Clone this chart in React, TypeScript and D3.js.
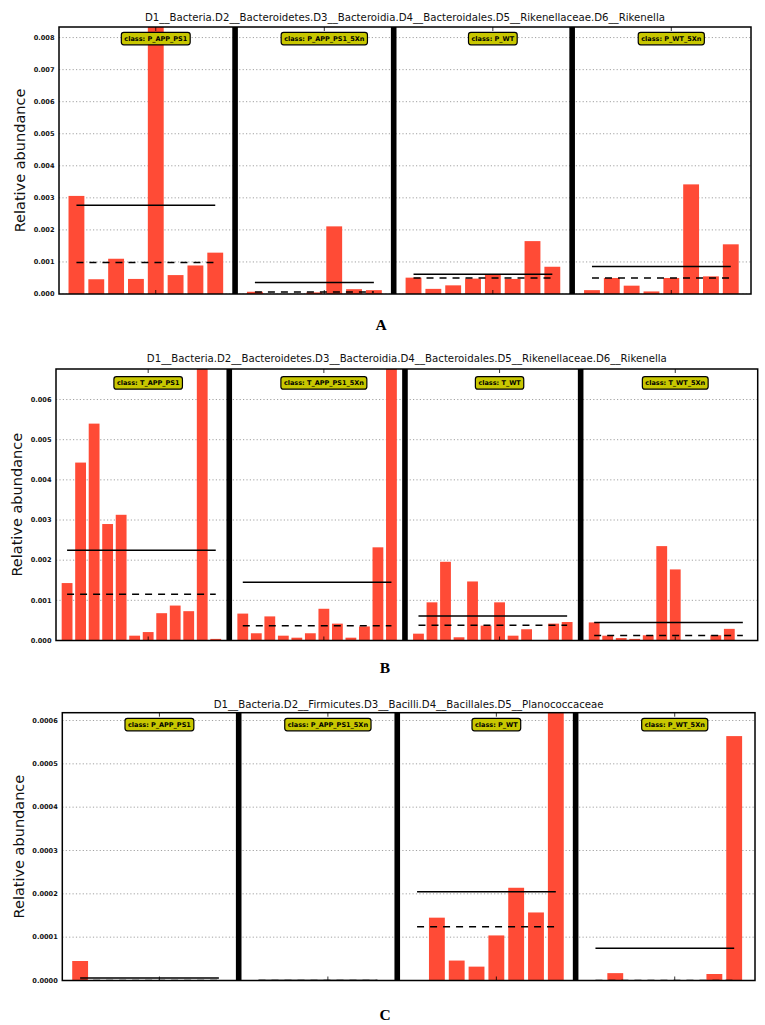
import React, { useEffect, useRef } from "react";
import * as d3 from "d3";

// ---------- DATA ----------
const titleAB =
  "D1__Bacteria.D2__Bacteroidetes.D3__Bacteroidia.D4__Bacteroidales.D5__Rikenellaceae.D6__Rikenella";
const titleC = "D1__Bacteria.D2__Firmicutes.D3__Bacilli.D4__Bacillales.D5__Planococcaceae";
const yAxisLabel = "Relative abundance";

const classesA = ["P_APP_PS1", "P_APP_PS1_5Xn", "P_WT", "P_WT_5Xn"];
const classesB = ["T_APP_PS1", "T_APP_PS1_5Xn", "T_WT", "T_WT_5Xn"];
const classesC = ["P_APP_PS1", "P_APP_PS1_5Xn", "P_WT", "P_WT_5Xn"];

// Panel A (relative abundance)
const A_P_APP_PS1 = [0.00306, 0.00046, 0.0011, 0.00047, 0.0143, 0.00059, 0.00089, 0.00129];
const A_P_APP_PS1_5Xn = [0.00007, 0, 0, 0.00005, 0.00211, 0.00015, 0.00012];
const A_P_WT = [0.00051, 0.00016, 0.00027, 0.00048, 0.00061, 0.00047, 0.00165, 0.00085];
const A_P_WT_5Xn = [0.00012, 0.0005, 0.00026, 0.00008, 0.0005, 0.00342, 0.00055, 0.00155];
const A_means = [0.00277, 0.00036, 0.00062, 0.00086];
const A_medians = [0.00098, 0.00006, 0.0005, 0.0005];
const A_ticks = [0, 0.001, 0.002, 0.003, 0.004, 0.005, 0.006, 0.007, 0.008];

// Panel B
const B_T_APP_PS1 = [0.00143, 0.00443, 0.0054, 0.0029, 0.00313, 0.00012, 0.00021, 0.00068, 0.00087, 0.00073, 0.00706, 0.00004];
const B_T_APP_PS1_5Xn = [0.00067, 0.00018, 0.0006, 0.00012, 0.00007, 0.00018, 0.00079, 0.00042, 0.00007, 0.00035, 0.00232, 0.0116];
const B_T_WT = [0.00017, 0.00095, 0.00196, 0.00008, 0.00147, 0.00037, 0.00095, 0.00012, 0.00028, 0, 0.00042, 0.00046];
const B_T_WT_5Xn = [0.00045, 0.00012, 0.00006, 0.00004, 0.00013, 0.00235, 0.00177, 0, 0, 0.00013, 0.00029, 0];
const B_means = [0.00225, 0.00145, 0.00061, 0.00045];
const B_medians = [0.00115, 0.00037, 0.00038, 0.000125];
const B_ticks = [0, 0.001, 0.002, 0.003, 0.004, 0.005, 0.006];

// Panel C
const C_P_APP_PS1 = [0.000045, 0, 0, 0, 0, 0, 0, 0];
const C_P_APP_PS1_5Xn = [0, 0, 0, 0, 0, 0, 0];
const C_P_WT = [0, 0.000145, 0.000046, 0.000032, 0.000104, 0.000214, 0.000157, 0.000942];
const C_P_WT_5Xn = [0, 0.000017, 0, 0, 0, 0, 0.000015, 0.000564];
const C_means = [0.0000056, 0, 0.000205, 0.0000745];
const C_medians = [0, 0, 0.000124, 0];
const C_ticks = [0, 0.0001, 0.0002, 0.0003, 0.0004, 0.0005, 0.0006];

// ---------- LAYOUT ----------
type Panel = {
  title: string;
  classes: string[];
  values: number[][];
  means: number[];
  medians: number[];
  ticks: number[];
  fmt: string;
  yMax: number;
  x0: number; x1: number; y0: number; y1: number;
  xDomain: [number, number];
  boxOffset: number;
  titleY: number;
  yLabelX: number;
  letter: string; letterX: number; letterY: number;
};

const panels: Panel[] = [
  {
    title: titleAB, classes: classesA,
    values: [A_P_APP_PS1, A_P_APP_PS1_5Xn, A_P_WT, A_P_WT_5Xn],
    means: A_means, medians: A_medians, ticks: A_ticks, fmt: ".3f", yMax: 0.00833,
    x0: 59, x1: 751, y0: 27, y1: 294, xDomain: [-0.88, 34.02], boxOffset: 5.3,
    titleY: 21, yLabelX: 25, letter: "A", letterX: 381, letterY: 330,
  },
  {
    title: titleAB, classes: classesB,
    values: [B_T_APP_PS1, B_T_APP_PS1_5Xn, B_T_WT, B_T_WT_5Xn],
    means: B_means, medians: B_medians, ticks: B_ticks, fmt: ".3f", yMax: 0.00676,
    x0: 56, x1: 757.7, y0: 369, y1: 640.5, xDomain: [-0.82, 51.1], boxOffset: 7.7,
    titleY: 361.5, yLabelX: 21.7, letter: "B", letterX: 385, letterY: 673,
  },
  {
    title: titleC, classes: classesC,
    values: [C_P_APP_PS1, C_P_APP_PS1_5Xn, C_P_WT, C_P_WT_5Xn],
    means: C_means, medians: C_medians, ticks: C_ticks, fmt: ".4f", yMax: 0.000618,
    x0: 62.3, x1: 755, y0: 712.7, y1: 980.5, xDomain: [-0.9, 34.05], boxOffset: 5.6,
    titleY: 708, yLabelX: 24, letter: "C", letterX: 385, letterY: 1020,
  },
];

const BAR = "#ff4b36";
const BOX = "#c8c700";
const SANS = "'DejaVu Sans', sans-serif";

function drawPanel(root: d3.Selection<SVGGElement, unknown, null, undefined>, p: Panel, idx: number) {
  const g = root.append("g");
  const x = d3.scaleLinear().domain(p.xDomain).range([p.x0, p.x1]);
  const y = d3.scaleLinear().domain([0, p.yMax]).range([p.y1, p.y0]);
  const clipId = `clip-${idx}`;
  g.append("clipPath").attr("id", clipId)
    .append("rect").attr("x", p.x0).attr("y", p.y0).attr("width", p.x1 - p.x0).attr("height", p.y1 - p.y0);

  const plot = g.append("g").attr("clip-path", `url(#${clipId})`);

  // gridlines
  plot.selectAll("line.grid").data(p.ticks).enter().append("line")
    .attr("x1", p.x0).attr("x2", p.x1)
    .attr("y1", (d) => y(d)).attr("y2", (d) => y(d))
    .attr("stroke", "#8a8a8a").attr("stroke-width", 0.8).attr("stroke-dasharray", "1.2,2.2");

  const bw = x(0.8) - x(0);
  let off = 0;
  const seps: number[] = [];
  const labelPos: number[] = [];
  p.values.forEach((vals, ci) => {
    const o = off;
    plot.append("g").selectAll("rect").data(vals).enter().append("rect")
      .attr("x", (_d, i) => x(o + i - 0.4))
      .attr("width", bw)
      .attr("y", (d) => y(d))
      .attr("height", (d) => y(0) - y(d))
      .attr("fill", BAR);
    const n = vals.length;
    // mean (solid) and median (dashed)
    plot.append("line")
      .attr("x1", x(o)).attr("x2", x(o + n - 1))
      .attr("y1", y(p.means[ci])).attr("y2", y(p.means[ci]))
      .attr("stroke", "#000").attr("stroke-width", 1.5);
    plot.append("line")
      .attr("x1", x(o)).attr("x2", x(o + n - 1))
      .attr("y1", y(p.medians[ci])).attr("y2", y(p.medians[ci]))
      .attr("stroke", "#000").attr("stroke-width", 1.5).attr("stroke-dasharray", "7,6");
    labelPos.push((o + o + n) / 2);
    if (ci < p.values.length - 1) seps.push(o + n);
    off += n + 1;
  });

  // separators
  seps.forEach((s) => {
    g.append("rect").attr("x", x(s) - 2.8).attr("width", 5.6)
      .attr("y", p.y0).attr("height", p.y1 - p.y0).attr("fill", "#000");
  });

  // frame
  g.append("rect").attr("x", p.x0).attr("y", p.y0)
    .attr("width", p.x1 - p.x0).attr("height", p.y1 - p.y0)
    .attr("fill", "none").attr("stroke", "#000").attr("stroke-width", 1.5);

  // x ticks at class centres (top & bottom, inward)
  labelPos.forEach((lp) => {
    g.append("line").attr("x1", x(lp)).attr("x2", x(lp)).attr("y1", p.y0).attr("y2", p.y0 + 4)
      .attr("stroke", "#000").attr("stroke-width", 0.8);
    g.append("line").attr("x1", x(lp)).attr("x2", x(lp)).attr("y1", p.y1).attr("y2", p.y1 - 4)
      .attr("stroke", "#000").attr("stroke-width", 0.8);
  });

  // y tick labels
  const fmt = d3.format(p.fmt);
  g.selectAll("text.ytick").data(p.ticks).enter().append("text")
    .attr("x", p.x0 - 4.5).attr("y", (d) => y(d) + 2.3)
    .attr("text-anchor", "end")
    .attr("font-family", SANS).attr("font-size", 6.6).attr("font-weight", "bold")
    .attr("fill", "#111")
    .text((d) => fmt(d));

  // class label boxes
  labelPos.forEach((lp, ci) => {
    const cx = x(lp);
    const bt = p.y0 + p.boxOffset;
    const bh = 12.5;
    const box = g.append("rect");
    const t = g.append("text")
      .attr("x", cx).attr("y", bt + bh / 2 + 2.3)
      .attr("text-anchor", "middle")
      .attr("font-family", SANS).attr("font-size", 6.5).attr("font-weight", "bold")
      .attr("fill", "#000")
      .text(`class: ${p.classes[ci]}`);
    const w = (t.node() as SVGTextElement).getComputedTextLength();
    box.attr("x", cx - w / 2 - 3).attr("y", bt).attr("width", w + 6).attr("height", bh)
      .attr("rx", 2.5).attr("fill", BOX).attr("stroke", "#000").attr("stroke-width", 1.2);
  });

  // title
  g.append("text")
    .attr("x", (p.x0 + p.x1) / 2).attr("y", p.titleY)
    .attr("text-anchor", "middle")
    .attr("font-family", SANS).attr("font-size", 10.2).attr("fill", "#111")
    .text(p.title);

  // y axis label
  g.append("text")
    .attr("transform", `translate(${p.yLabelX},${(p.y0 + p.y1) / 2}) rotate(-90)`)
    .attr("text-anchor", "middle")
    .attr("font-family", SANS).attr("font-size", 14.5).attr("fill", "#111")
    .text(yAxisLabel);

  // panel letter
  g.append("text")
    .attr("x", p.letterX).attr("y", p.letterY)
    .attr("text-anchor", "middle")
    .attr("font-family", "'Liberation Serif', 'Times New Roman', serif")
    .attr("font-size", 15.5).attr("font-weight", "bold").attr("fill", "#000")
    .text(p.letter);
}

export default function App() {
  const ref = useRef<SVGSVGElement | null>(null);
  useEffect(() => {
    document.body.style.margin = "0";
    const svg = d3.select(ref.current);
    svg.selectAll("*").remove();
    const root = svg.append("g");
    panels.forEach((p, i) => drawPanel(root as any, p, i));
  }, []);
  return (
    <div style={{ position: "absolute", left: 0, top: 0 }}>
      <svg ref={ref} width={765} height={1025} style={{ display: "block", background: "#fff" }} />
    </div>
  );
}
